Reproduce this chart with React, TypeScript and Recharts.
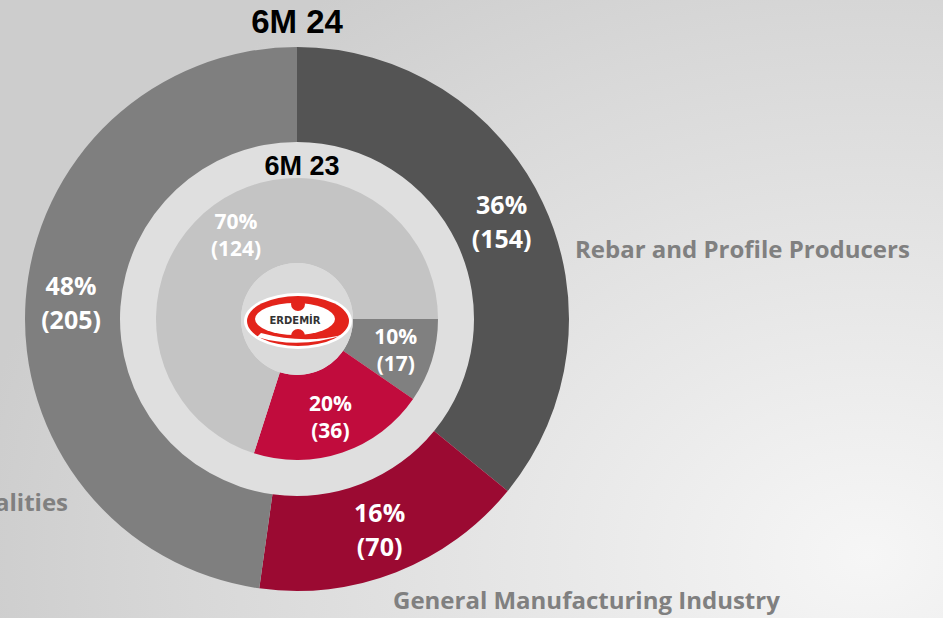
import { PieChart, Pie, Cell } from 'recharts'

// 6M 24 (outer ring), tons
const outerNames = ['Rebar and Profile Producers', 'General Manufacturing Industry', 'Qualities']
const outerValues = [154, 70, 205]
const outerColors = ['#545454', '#9b0a32', '#7f7f7f']

// 6M 23 (inner pie)
const innerNames = ['Gray segment', 'Red segment', 'Light segment']
const innerValues = [17, 36, 124]
const innerColors = ['#808080', '#c10c3d', '#c4c4c4']

const titles = ['6M 24', '6M 23']

const outerData = outerNames.map((name, i) => ({ name, value: outerValues[i] }))
const innerData = innerNames.map((name, i) => ({ name, value: innerValues[i] }))

const W = 943
const H = 618
const CX = 297
const CY = 319
const RAD = Math.PI / 180
const FONT = '"Open Sans", "Noto Sans", sans-serif'

const makeLabel = (offset: number, size: number, gap: number) => (props: any) => {
    const { cx, cy, midAngle, innerRadius, outerRadius, percent, value } = props
    const r = (innerRadius + outerRadius) / 2 + offset
    const x = cx + r * Math.cos(-midAngle * RAD)
    const y = cy + r * Math.sin(-midAngle * RAD)
    return (
        <text x={x} y={y} fill="#fff" textAnchor="middle" fontFamily={FONT} fontWeight={700} fontSize={size}>
            <tspan x={x} dy={-gap / 2 + size * 0.35}>{`${Math.round(percent * 100)}%`}</tspan>
            <tspan x={x} dy={gap}>{`(${value})`}</tspan>
        </text>
    )
}

export default function App() {
    return (
        <div
            style={{
                position: 'absolute',
                left: 0,
                top: 0,
                width: W,
                height: H,
                overflow: 'hidden',
                background:
                    'radial-gradient(ellipse 900px 700px at 92% 90%, #f6f6f6 0%, #e6e6e6 40%, #d8d8d8 75%, #cdcdcd 100%)',
            }}
        >
            <PieChart width={W} height={H} margin={{ top: 0, right: 0, bottom: 0, left: 0 }}>
                {/* light ring behind the inner pie */}
                <Pie
                    data={[{ value: 1 }]}
                    dataKey="value"
                    cx={CX}
                    cy={CY}
                    innerRadius={0}
                    outerRadius={178}
                    fill="#dfdfdf"
                    stroke="none"
                    isAnimationActive={false}
                />
                <Pie
                    data={outerData}
                    dataKey="value"
                    cx={CX}
                    cy={CY}
                    innerRadius={177}
                    outerRadius={272}
                    startAngle={90}
                    endAngle={-270}
                    stroke="none"
                    label={makeLabel(2, 25, 34)}
                    labelLine={false}
                    isAnimationActive={false}
                >
                    {outerData.map((d, i) => (
                        <Cell key={d.name} fill={outerColors[i]} />
                    ))}
                </Pie>
                <Pie
                    data={innerData}
                    dataKey="value"
                    cx={CX}
                    cy={CY}
                    innerRadius={56}
                    outerRadius={141}
                    startAngle={0}
                    endAngle={-360}
                    stroke="none"
                    label={makeLabel(5, 21, 27)}
                    labelLine={false}
                    isAnimationActive={false}
                >
                    {innerData.map((d, i) => (
                        <Cell key={d.name} fill={innerColors[i]} />
                    ))}
                </Pie>
                <Pie
                    data={[{ value: 1 }]}
                    dataKey="value"
                    cx={CX}
                    cy={CY}
                    innerRadius={0}
                    outerRadius={56}
                    fill="#dadada"
                    stroke="none"
                    isAnimationActive={false}
                />
            </PieChart>

            {/* titles, category names and logo */}
            <svg width={W} height={H} style={{ position: 'absolute', left: 0, top: 0, pointerEvents: 'none' }}>
                <text x={CX} y={33} textAnchor="middle" fontFamily='"Liberation Sans", Arial, sans-serif' fontWeight={700} fontSize={33} fill="#000">
                    {titles[0]}
                </text>
                <text x={CX + 5} y={175} textAnchor="middle" fontFamily='"Liberation Sans", Arial, sans-serif' fontWeight={700} fontSize={27} fill="#000">
                    {titles[1]}
                </text>
                <text x={575} y={258} fontFamily={FONT} fontWeight={700} fontSize={24} fill="#808080">
                    {outerNames[0]}
                </text>
                <text x={393} y={609} fontFamily={FONT} fontWeight={700} fontSize={24} fill="#808080">
                    {outerNames[1]}
                </text>
                <text x={68} y={511} textAnchor="end" fontFamily={FONT} fontWeight={700} fontSize={24} fill="#808080">
                    {outerNames[2]}
                </text>

                <g>
                    <ellipse cx={298} cy={321} rx={54} ry={28} fill="#fff" />
                    <ellipse cx={298} cy={321} rx={51} ry={25} fill="#e3241b" />
                    <ellipse cx={295} cy={319} rx={40} ry={16} fill="#fff" />
                    <circle cx={298} cy={304} r={7} fill="#e3241b" />
                    <circle cx={298} cy={336} r={7} fill="#e3241b" />
                    <path d="M257 337 Q300 350 346 334 Q305 345 261 333 Z" fill="#fff" />
                    <text x={295} y={324} textAnchor="middle" fontFamily='"DejaVu Sans", sans-serif' fontWeight={700} fontSize={10} fill="#333">
                        ERDEMİR
                    </text>
                </g>
            </svg>
        </div>
    )
}
